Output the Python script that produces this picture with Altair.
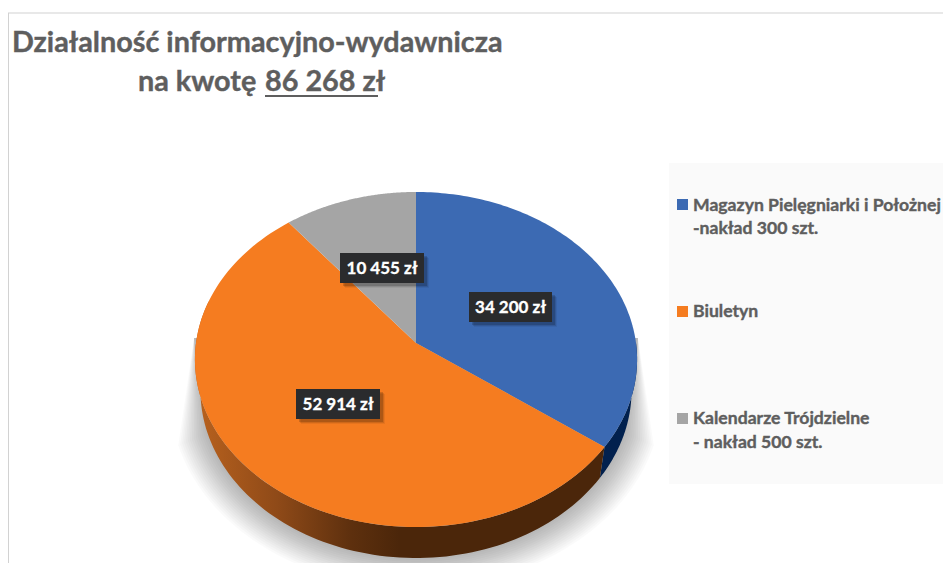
import math
import numpy as np
import pandas as pd
import altair as alt

# ---- data
categories = ["Magazyn", "Biuletyn", "Kalendarze"]
values = [34200, 52914, 10455]
value_labels = ["34 200 zł", "52 914 zł", "10 455 zł"]
top_colors = ["#3C6AB3", "#F57C20", "#A5A5A5"]
legend_lines = [
    ["Magazyn Pielęgniarki i Położnej", "-nakład 300 szt."],
    ["Biuletyn"],
    ["Kalendarze Trójdzielne", "- nakład 500 szt."],
]

FONT = "Lato"
TEXT = "#5E5E5E"
PX, PY = 416.0, 343.0      # where the slices meet
RX, RY, K = 220.0, 165.9, 0.0985   # perspective disc
DEPTH, SQUEEZE = 31.0, 0.975

X = alt.X("x:Q", scale=alt.Scale(domain=[8, 943], nice=False, zero=False), axis=None)
Y = alt.Y("y:Q", scale=alt.Scale(domain=[563, 8], nice=False, zero=False), axis=None)


def disc(t_deg, bottom=False, grow=0.0):
    t = np.radians(t_deg)
    u, v = np.sin(t), np.cos(t)
    w = 1 + K * v
    xx, yy = u * RX / w, -v * RY / w
    if bottom:
        xx, yy = xx * SQUEEZE, yy + DEPTH
    return PX + xx * (1 + grow), PY + (yy * (1 + grow))


def polygon(xs, ys, **mark):
    df = pd.DataFrame({"x": xs, "y": ys, "i": range(len(xs))})
    return alt.Chart(df).mark_line(strokeWidth=0, **mark).encode(x=X, y=Y, order="i:Q")


def rect(x0, x1, y0, y1, color, opacity=1.0):
    df = pd.DataFrame({"x": [x0], "x2": [x1], "y": [y0], "y2": [y1]})
    return alt.Chart(df).mark_rect(color=color, opacity=opacity).encode(x=X, x2="x2:Q", y=Y, y2="y2:Q")


def text(s, x, y, size, color=TEXT, align="left", thick=0.4):
    df = pd.DataFrame({"x": [x], "y": [y], "t": [s]})
    return alt.Chart(df).mark_text(
        font=FONT, fontWeight="bold", fontSize=size, color=color, align=align, baseline="alphabetic",
        stroke=color, strokeWidth=thick,
    ).encode(x=X, y=Y, text="t:N")


total = sum(values)
edges = np.cumsum([0] + values) / total * 360.0
layers = []

# frame + legend panel
layers.append(rect(669, 943, 163, 484, "#FAFAFA"))
layers.append(rect(8, 943, 12.5, 13.5, "#D2D2D2"))
layers.append(rect(8, 9, 13, 563, "#D2D2D2"))

# soft shadow behind the disc
N = 15
for k in range(N):
    g = 0.14 * (k + 1) / N
    ts = np.linspace(250, 110, 80)
    ax, ay = disc(ts, bottom=True, grow=g)
    xs = [194.0, *ax, 638.0]
    ys = [338.0, *ay, 338.0]
    layers.append(polygon(xs, ys, fill="#000000", fillOpacity=0.021))

# side walls
wall_fills = {
    0: "#02214E",
    1: alt.LinearGradient(
        gradient="linear", x1=0, x2=1, y1=0, y2=0,
        stops=[
            alt.GradientStop(color="#B9621E", offset=0),
            alt.GradientStop(color="#8F4A18", offset=0.2),
            alt.GradientStop(color="#5E300E", offset=0.38),
            alt.GradientStop(color="#4B260A", offset=0.5),
            alt.GradientStop(color="#4B260A", offset=1),
        ],
    ),
}
for i, (a, b) in {0: (90, edges[1]), 1: (edges[1], 285)}.items():
    ts = np.linspace(a, b, 100)
    x1, y1 = disc(ts)
    x2, y2 = disc(ts[::-1], bottom=True)
    layers.append(polygon([*x1, *x2], [*y1, *y2], fill=wall_fills[i]))

# top faces
for i in range(3):
    ts = np.linspace(edges[i], edges[i + 1], 120)
    ax, ay = disc(ts)
    layers.append(polygon([PX, *ax, PX], [PY, *ay, PY], fill=top_colors[i]))

# value labels
boxes = [(469, 552, 292, 322), (296, 380, 389, 419), (340, 424, 253, 283)]
for (x0, x1, y0, y1), lab in zip(boxes, value_labels):
    for off, op in [(5, 0.06), (4, 0.10), (3, 0.16)]:
        layers.append(rect(x0 + off, x1 + off, y0 + off, y1 + off, "#000000", op))
    layers.append(rect(x0, x1, y0, y1, "#2A2B2D"))
    layers.append(text(lab, (x0 + x1) / 2, (y0 + y1) / 2 + 5.5, 17, "#FFFFFF", "center", 0.3))

# title
layers.append(text("Działalność informacyjno-wydawnicza", 12, 52, 28.8))
layers.append(text("na kwotę", 138, 91, 28.8))
layers.append(text("86 268 zł", 265, 91, 28.8))
layers.append(rect(265, 378, 95, 97, TEXT))

# legend
legend_y = [(199, [211, 234]), (306, [317]), (413, [424, 448])]
for i, (sq, bases) in enumerate(legend_y):
    layers.append(rect(677, 688, sq, sq + 11, top_colors[i]))
    for line, base in zip(legend_lines[i], bases):
        layers.append(text(line, 693, base, 17.6))

chart = alt.layer(*layers).properties(
    width=935, height=555, padding=0, autosize=alt.AutoSizeParams(type="none"),
    background="white",
).configure_view(stroke=None)

chart.save("out.html", embed_options={"renderer": "svg", "actions": False})
